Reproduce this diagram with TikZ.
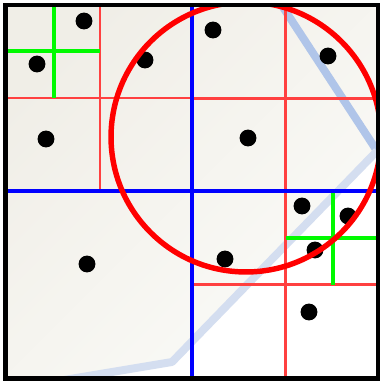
\documentclass[tikz,border=0pt]{standalone}
\usepackage{tikz}
\definecolor{bgtop}   {RGB}{240, 238, 231}
\definecolor{bgbot}   {RGB}{251, 251, 248}
\definecolor{pathtop} {RGB}{170, 192, 232}
\definecolor{pathlow} {RGB}{212, 222, 240}
\definecolor{splitclr}{RGB}{255,  64,  64}
\definecolor{leafclr} {RGB}{  0, 250,   0}
\definecolor{rootclr} {RGB}{  0,   0, 255}
\definecolor{queryclr}{RGB}{255,   0,   0}
\tikzset{
  pt/.style={circle, fill=black, inner sep=0pt, minimum size=9.6pt},
  rootsplit/.style={rootclr, line width=2.1pt},
  subsplit/.style={splitclr, line width=1.3pt},
  leafsplit/.style={leafclr, line width=2pt},
}

\begin{document}
\begin{tikzpicture}[x=0.02cm, y=-0.02cm]
  \useasboundingbox (0,0) rectangle (380,381);
  \begin{scope}
    \clip (5.5,5) rectangle (378,378.5);
    % background
    \fill[white] (0,0) rectangle (380,381);
    \shade[top color=bgtop, bottom color=bgbot, shading angle=45]
      (0,0) rectangle (380,381);
    % white area under the trail
    \fill[white] (40,384) -- (172,362) -- (377,151) -- (384,151) -- (384,384) -- cycle;
    % faded trail
    \draw[pathtop!85!pathlow, line width=4.5pt] (275,-5) -- (377,151);
    \draw[pathlow, line width=4.5pt, line join=bevel] (377,151) -- (172,362) -- (40,384);
    % second level splits
    \draw[subsplit] (100,5) -- (100,191);
    \draw[subsplit] (5,98) -- (192,98);
    \draw[subsplit] (285.5,5) -- (285.5,378);
    \draw[subsplit] (192,98.5) -- (378,98.5);
    \draw[subsplit] (192,284.5) -- (378,284.5);
    % third level splits
    \draw[leafsplit] (54,5) -- (54,98);
    \draw[leafsplit] (5,51) -- (100,51);
    \draw[leafsplit] (333,191) -- (333,284.5);
    \draw[leafsplit] (285.5,238) -- (378,238);
    % root split
    \draw[rootsplit] (192,5) -- (192,378);
    \draw[rootsplit] (5,191) -- (378,191);
    % points
    \node[pt] (p1)  at (84,21)   {};
    \node[pt] (p2)  at (37,64)   {};
    \node[pt] (p3)  at (145,60)  {};
    \node[pt] (p4)  at (46,139)  {};
    \node[pt] (p5)  at (213,30)  {};
    \node[pt] (p6)  at (328,56)  {};
    \node[pt] (p7)  at (248,138) {};
    \node[pt] (p8)  at (87,264)  {};
    \node[pt] (p9)  at (302,206) {};
    \node[pt] (p10) at (348,216) {};
    \node[pt] (p11) at (315,250) {};
    \node[pt] (p12) at (225,259) {};
    \node[pt] (p13) at (309,312) {};
    % query circle
    \draw[queryclr, line width=3.1pt] (246,137) circle (2.7cm);
  \end{scope}
  % frame
  \draw[black, line width=2.6pt] (5.5,5) rectangle (378,378.5);
\end{tikzpicture}
\end{document}
